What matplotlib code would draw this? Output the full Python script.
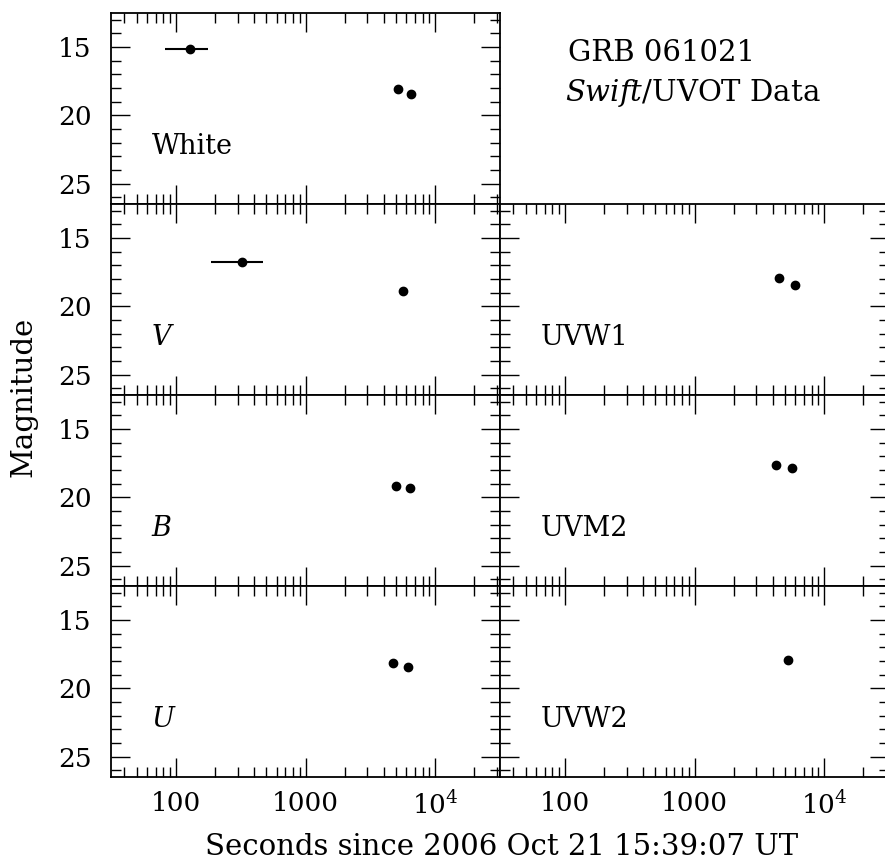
import matplotlib
matplotlib.use("Agg")
import matplotlib.pyplot as plt
from matplotlib.ticker import FixedLocator, FixedFormatter, LogLocator, MultipleLocator, NullFormatter

plt.rcParams['font.family'] = ['DejaVu Serif']
plt.rcParams['mathtext.fontset'] = 'dejavuserif'

# ---- data ----
filters = ['White', 'V', 'B', 'U', 'UVW1', 'UVM2', 'UVW2']
italic = {'V': True, 'B': True, 'U': True}

white_t = [128, 5180, 6560]
white_m = [15.16, 18.09, 18.44]
white_tlo = [82, None, None]
white_thi = [176, None, None]

v_t = [324, 5600]
v_m = [16.77, 18.88]
v_tlo = [187, None]
v_thi = [468, None]

b_t = [4950, 6450]
b_m = [19.17, 19.30]

u_t = [4730, 6180]
u_m = [18.12, 18.42]

uvw1_t = [4490, 5920]
uvw1_m = [17.95, 18.44]

uvm2_t = [4280, 5680]
uvm2_m = [17.63, 17.87]

uvw2_t = [5260]
uvw2_m = [17.93]

xticks = [100, 1000, 10000]
xticklabels = ['100', '1000', '$10^4$']
yticks = [15, 20, 25]
yticklabels = ['15', '20', '25']

xlim = (10**1.5, 10**4.5)
ylim = (26.5, 12.5)

title1 = 'GRB 061021'
title2 = '$\\mathit{Swift}$/UVOT Data'
xlabel = 'Seconds since 2006 Oct 21 15:39:07 UT'
ylabel = 'Magnitude'

W, H = 885, 860
fig = plt.figure(figsize=(W / 100, H / 100), dpi=100)

col_x = [111, 500]
col_w = 389
row_top = [13, 204, 395, 586]
row_h = 191

FS = 19
FS_BIG = 21


def make_ax(row, col):
    x0 = col_x[col] / W
    y0 = 1 - (row_top[row] + row_h) / H
    ax = fig.add_axes([x0, y0, col_w / W, row_h / H])
    ax.set_xscale('log')
    ax.set_xlim(*xlim)
    ax.set_ylim(*ylim)
    ax.xaxis.set_major_locator(FixedLocator(xticks))
    ax.xaxis.set_major_formatter(FixedFormatter(xticklabels))
    ax.xaxis.set_minor_locator(LogLocator(base=10, subs=range(2, 10), numticks=20))
    ax.xaxis.set_minor_formatter(NullFormatter())
    ax.yaxis.set_major_locator(FixedLocator(yticks))
    ax.yaxis.set_major_formatter(FixedFormatter(yticklabels))
    ax.yaxis.set_minor_locator(MultipleLocator(1))
    ax.tick_params(which='both', direction='in', top=True, right=True,
                   labelsize=FS, width=1.0, color='black')
    ax.tick_params(which='major', length=14)
    ax.tick_params(which='minor', length=7)
    ax.tick_params(axis='y', pad=14)
    ax.tick_params(axis='x', pad=10)
    for s in ax.spines.values():
        s.set_linewidth(1.3)
    if col == 1:
        ax.tick_params(labelleft=False)
    if row != 3:
        ax.tick_params(labelbottom=False)
    return ax


def plot_series(ax, t, m, tlo=None, thi=None):
    ax.plot(t, m, 'o', color='black', markersize=6, zorder=3)
    if tlo is not None:
        for ti, mi, lo, hi in zip(t, m, tlo, thi):
            if lo is not None:
                ax.errorbar([ti], [mi], xerr=[[ti - lo], [hi - ti]], fmt='none',
                            ecolor='black', elinewidth=1.5, capsize=0)


def label(ax, name):
    ax.text(0.105, 0.30, name, transform=ax.transAxes, ha='left', va='center',
            fontsize=FS + 0.5, fontstyle='italic' if italic.get(name) else 'normal')


ax = make_ax(0, 0)
plot_series(ax, white_t, white_m, white_tlo, white_thi)
label(ax, 'White')

ax = make_ax(1, 0)
plot_series(ax, v_t, v_m, v_tlo, v_thi)
label(ax, 'V')

ax = make_ax(2, 0)
plot_series(ax, b_t, b_m)
label(ax, 'B')

ax = make_ax(3, 0)
plot_series(ax, u_t, u_m)
label(ax, 'U')

ax = make_ax(1, 1)
plot_series(ax, uvw1_t, uvw1_m)
label(ax, 'UVW1')

ax = make_ax(2, 1)
plot_series(ax, uvm2_t, uvm2_m)
label(ax, 'UVM2')

ax = make_ax(3, 1)
plot_series(ax, uvw2_t, uvw2_m)
label(ax, 'UVW2')

fig.text(568 / W, 1 - 53 / H, title1, ha='left', va='center', fontsize=FS_BIG)
fig.text(565 / W, 1 - 93 / H, title2, ha='left', va='center', fontsize=FS_BIG)
fig.text(502 / W, 1 - 847 / H, xlabel, ha='center', va='center', fontsize=FS_BIG)
fig.text(24 / W, 1 - 397 / H, ylabel, ha='center', va='center', rotation=90, fontsize=FS_BIG)

fig.savefig('out.png', dpi=100)
